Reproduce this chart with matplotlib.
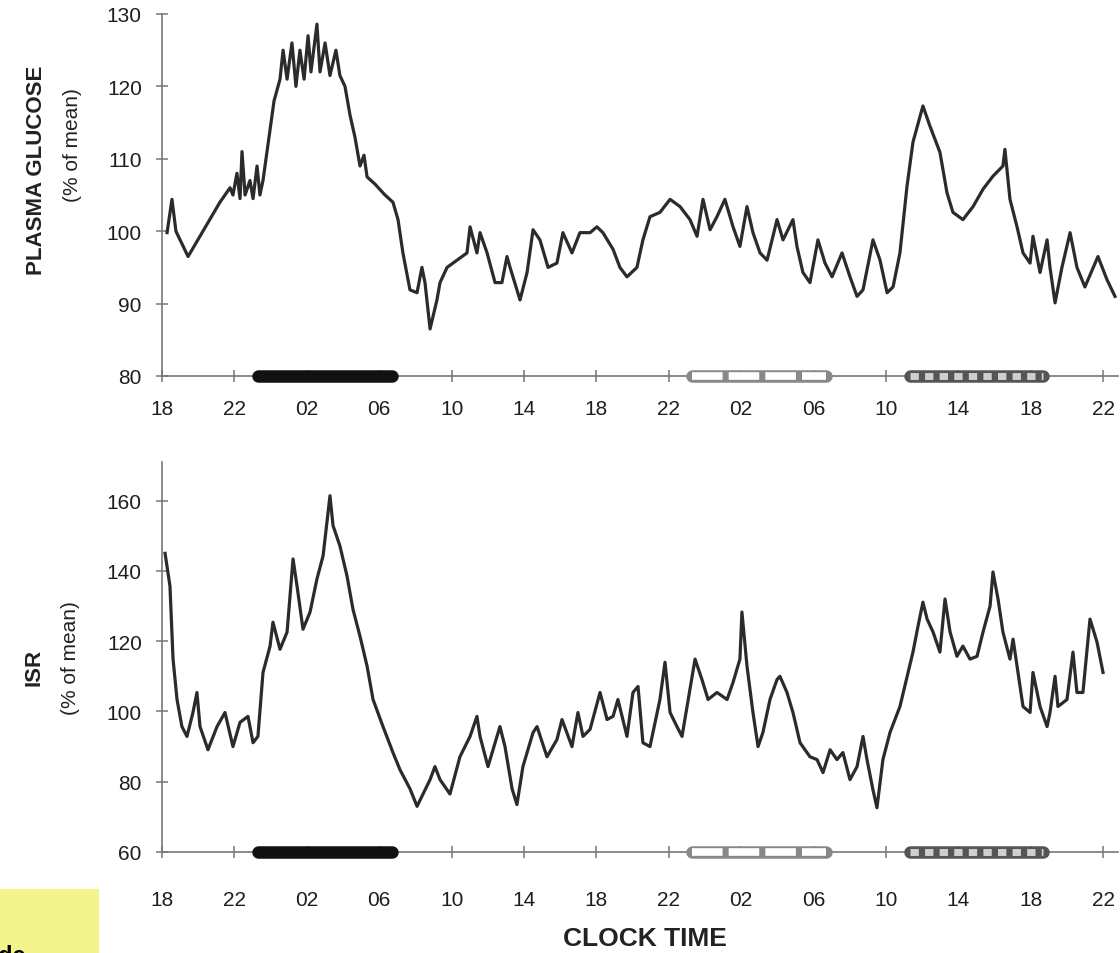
import matplotlib
matplotlib.use("Agg")
import matplotlib.pyplot as plt
from matplotlib.patches import Rectangle

plt.rcParams['font.family'] = ['Liberation Sans', 'DejaVu Sans']

# ── data: hours since 18:00 on day 1, values in % of mean ─────────────────
glucose_hours = [
    0.28, 0.55, 0.77, 1.44, 2.38, 3.20, 3.76, 3.92, 4.14, 4.31,
    4.42, 4.59, 4.86, 5.03, 5.25, 5.41, 5.58, 5.86, 6.19, 6.52,
    6.69, 6.91, 7.18, 7.40, 7.62, 7.85, 8.07, 8.23, 8.56, 8.73,
    9.01, 9.28, 9.61, 9.83, 10.11, 10.39, 10.66, 10.94, 11.16, 11.33,
    11.77, 12.32, 12.76, 13.04, 13.31, 13.70, 14.09, 14.36, 14.53, 14.81,
    15.19, 15.36, 15.75, 16.30, 16.85, 17.02, 17.40, 17.57, 17.96, 18.40,
    18.78, 19.06, 19.23, 19.78, 20.17, 20.50, 20.88, 21.33, 21.82, 22.15,
    22.65, 23.09, 23.65, 24.03, 24.36, 24.92, 25.30, 25.69, 26.24, 26.57,
    26.96, 27.51, 28.07, 28.62, 29.17, 29.56, 29.89, 30.28, 30.66, 31.10,
    31.55, 31.93, 32.32, 32.65, 33.04, 33.43, 33.98, 34.31, 34.86, 35.08,
    35.41, 35.80, 36.24, 36.63, 37.02, 37.57, 38.01, 38.40, 38.73, 39.28,
    39.67, 40.06, 40.39, 40.77, 41.16, 41.49, 42.04, 42.43, 42.98, 43.37,
    43.70, 44.25, 44.81, 45.36, 45.91, 46.46, 46.57, 46.85, 47.24, 47.57,
    47.96, 48.12, 48.51, 48.90, 49.06, 49.34, 49.72, 50.17, 50.55, 50.99,
    51.71, 52.21, 52.65,
]
glucose_pct = [
    99.8, 104.4, 100, 96.5, 100.5, 104, 106, 105, 108, 104.5,
    111, 105, 107, 104.5, 109, 105, 107, 112, 118, 121,
    125, 121, 126, 120, 125, 121, 127, 122, 128.6, 122,
    126, 121.5, 125, 121.5, 120, 116, 113, 109, 110.5, 107.5,
    106.5, 105, 104, 101.6, 97, 91.9, 91.5, 95, 92.9, 86.5,
    90.5, 92.9, 95, 96, 97, 100.6, 97, 99.8, 97, 92.9,
    92.9, 96.5, 95, 90.5, 94.3, 100.2, 98.8, 95, 95.6, 99.8,
    97, 99.8, 99.8, 100.6, 99.8, 97.5, 95, 93.7, 95, 98.8,
    102, 102.6, 104.4, 103.4, 101.6, 99.3, 104.4, 100.2, 102, 104.4,
    100.6, 97.9, 103.4, 99.8, 97, 96, 101.6, 98.8, 101.6, 97.9,
    94.3, 92.9, 98.8, 95.6, 93.7, 97, 93.7, 91, 91.9, 98.8,
    96, 91.5, 92.3, 97, 106.2, 112.3, 117.3, 114.5, 110.9, 105.3,
    102.6, 101.6, 103.4, 105.8, 107.6, 109, 111.3, 104.4, 100.6, 97,
    95.6, 99.3, 94.3, 98.8, 95, 90.1, 95, 99.8, 95, 92.3,
    96.5, 93.3, 91,
]

isr_hours = [
    0.17, 0.44, 0.61, 0.83, 1.10, 1.38, 1.71, 1.93, 2.10, 2.54,
    3.04, 3.48, 3.92, 4.31, 4.75, 5.03, 5.30, 5.58, 5.97, 6.13,
    6.52, 6.91, 7.24, 7.46, 7.79, 8.18, 8.56, 8.90, 9.28, 9.45,
    9.83, 10.22, 10.55, 10.94, 11.33, 11.66, 12.21, 12.76, 13.15, 13.70,
    14.09, 14.81, 15.08, 15.36, 15.91, 16.46, 17.02, 17.40, 17.57, 18.01,
    18.40, 18.67, 18.95, 19.34, 19.61, 19.94, 20.50, 20.72, 21.27, 21.82,
    22.10, 22.65, 22.98, 23.26, 23.65, 24.20, 24.59, 24.92, 25.19, 25.69,
    26.02, 26.30, 26.57, 26.96, 27.51, 27.79, 28.07, 28.45, 28.73, 29.01,
    29.45, 29.83, 30.17, 30.66, 31.22, 31.55, 31.93, 32.04, 32.32, 32.65,
    32.93, 33.20, 33.59, 33.98, 34.14, 34.53, 34.86, 35.25, 35.80, 36.19,
    36.52, 36.91, 37.29, 37.62, 38.01, 38.40, 38.73, 38.95, 39.28, 39.50,
    39.83, 40.22, 40.77, 41.22, 41.49, 41.77, 42.04, 42.27, 42.60, 42.98,
    43.26, 43.54, 43.92, 44.25, 44.64, 45.03, 45.36, 45.75, 45.91, 46.19,
    46.46, 46.85, 47.02, 47.29, 47.57, 47.96, 48.12, 48.51, 48.90, 49.06,
    49.34, 49.50, 50.00, 50.33, 50.55, 50.88, 51.27, 51.66, 51.99,
]
isr_pct = [
    145, 135.7, 114.9, 103.4, 95.7, 92.9, 99.7, 105.4, 95.7, 89.1,
    95.7, 99.7, 90, 96.9, 98.6, 91.1, 92.9, 111.1, 118.6, 125.4,
    117.7, 122.6, 143.4, 135.7, 123.4, 128.3, 137.7, 144.3, 161.4, 152.9,
    147.1, 138.6, 129.1, 121.4, 112.9, 103.4, 95.7, 88.3, 83.4, 78,
    73, 80.6, 84.3, 80.6, 76.5, 87.1, 92.9, 98.6, 92.9, 84.3,
    91.1, 95.7, 90, 78, 73.5, 84.3, 94, 95.7, 87.1, 92,
    97.7, 90, 99.7, 92.9, 94.9, 105.4, 97.7, 98.6, 103.4, 92.9,
    105.4, 107.1, 91.1, 90, 103.4, 114, 99.7, 95.7, 92.9, 101.4,
    114.9, 109.1, 103.4, 105.4, 103.4, 108.3, 114.9, 128.3, 112.9, 99.7,
    90, 94, 103.4, 109.1, 110, 105.4, 99.7, 91.1, 87.1, 86.3,
    82.6, 89.1, 86.3, 88.3, 80.6, 84.3, 92.9, 86.3, 77.7, 72.6,
    86.3, 94, 101.4, 111.1, 116.9, 124.3, 131.1, 126.3, 122.6, 116.9,
    132, 122.6, 115.7, 118.6, 114.9, 115.7, 122.6, 130, 139.7, 132,
    122.6, 114.9, 120.6, 111.1, 101.4, 99.7, 111.1, 101.4, 95.7, 99.7,
    110, 101.4, 103.4, 116.9, 105.4, 105.4, 126.3, 119.7, 111.1,
]

tick_hours = list(range(0, 53, 4))
tick_labels = ["18", "22", "02", "06", "10", "14", "18",
               "22", "02", "06", "10", "14", "18", "22"]

# sleep periods (start, end) in hours since 18:00
night_sleep = (5, 13)          # 23:00 - 07:00, black bar
night_awake = (29, 37)         # 23:00 - 07:00, open bar
day_sleep = (41, 49)           # 11:00 - 19:00, hatched bar

# ── figure ────────────────────────────────────────────────────────────────
W, H = 1120, 954
fig = plt.figure(figsize=(W / 100, H / 100), dpi=100)
px_per_h = 18.1
x_max = 956 / px_per_h

ax1 = fig.add_axes([162 / W, 1 - 377 / H, 956 / W, 362 / H])
ax2 = fig.add_axes([162 / W, 1 - 853 / H, 956 / W, 390 / H])

line_col = '#2b2b2b'
axis_col = '#777777'


def style(ax, ylim, yticks, xpad):
    ax.set_xlim(0, x_max)
    ax.set_ylim(*ylim)
    for s in ('top', 'right'):
        ax.spines[s].set_visible(False)
    for s in ('left', 'bottom'):
        ax.spines[s].set_color(axis_col)
        ax.spines[s].set_linewidth(1.2)
    ax.set_yticks(yticks)
    ax.set_xticks(tick_hours)
    ax.set_xticklabels(tick_labels)
    ax.tick_params(axis='both', direction='inout', length=9, width=1.1,
                   color=axis_col, labelsize=15, labelcolor='#1e1e1e')
    ax.tick_params(axis='y', pad=10)
    ax.tick_params(axis='x', pad=xpad)


def sleep_bars(ax, y):
    lw = 9
    cap = 0.3
    a, b = night_sleep
    ax.plot([a + cap, b - cap], [y, y], color='#111111', lw=lw,
            solid_capstyle='round', clip_on=False, zorder=5)
    a, b = night_awake
    ax.plot([a + cap, b - cap], [y, y], color='#888888', lw=lw,
            solid_capstyle='round', clip_on=False, zorder=5)
    ax.plot([a + cap, b - cap], [y, y], color='white', lw=lw - 3.5,
            solid_capstyle='butt', dashes=(4, 0.8), clip_on=False, zorder=6)
    a, b = day_sleep
    ax.plot([a + cap, b - cap], [y, y], color='#555555', lw=lw,
            solid_capstyle='round', clip_on=False, zorder=5)
    ax.plot([a + cap, b - cap], [y, y], color='#cfcfcf', lw=lw - 4,
            solid_capstyle='butt', dashes=(1.2, 0.9), clip_on=False, zorder=6)


style(ax1, (80, 130), range(80, 131, 10), 12)
ax1.plot(glucose_hours, glucose_pct, color=line_col, lw=2.3)
sleep_bars(ax1, 80)

style(ax2, (60, 171), range(60, 161, 20), 23)
ax2.plot(isr_hours, isr_pct, color=line_col, lw=2.3)
sleep_bars(ax2, 60)

# ── axis titles ───────────────────────────────────────────────────────────
fig.text(37 / W, 1 - 170 / H, "PLASMA GLUCOSE", rotation=90, ha='center',
         va='center', fontsize=16, fontweight='bold', color='#222222')
fig.text(72 / W, 1 - 145 / H, "(% of mean)", rotation=90, ha='center',
         va='center', fontsize=15, color='#222222')
fig.text(34 / W, 1 - 667 / H, "ISR", rotation=90, ha='center',
         va='center', fontsize=16, fontweight='bold', color='#222222')
fig.text(70 / W, 1 - 658 / H, "(% of mean)", rotation=90, ha='center',
         va='center', fontsize=15, color='#222222')
fig.text(645 / W, 1 - 939 / H, "CLOCK TIME", ha='center', va='center',
         fontsize=19, fontweight='bold', color='#222222')

# yellow note box cut at the bottom-left corner (text is cut in the source too)
fig.patches.append(Rectangle((0, 0), 99 / W, 64 / H, transform=fig.transFigure,
                             facecolor='#f4f48c', edgecolor='none', zorder=0))
fig.text(-2 / W, -9 / H, "de", ha='left', va='baseline', fontsize=17,
         fontweight='bold', color='black')

fig.savefig("out.png", dpi=100)
